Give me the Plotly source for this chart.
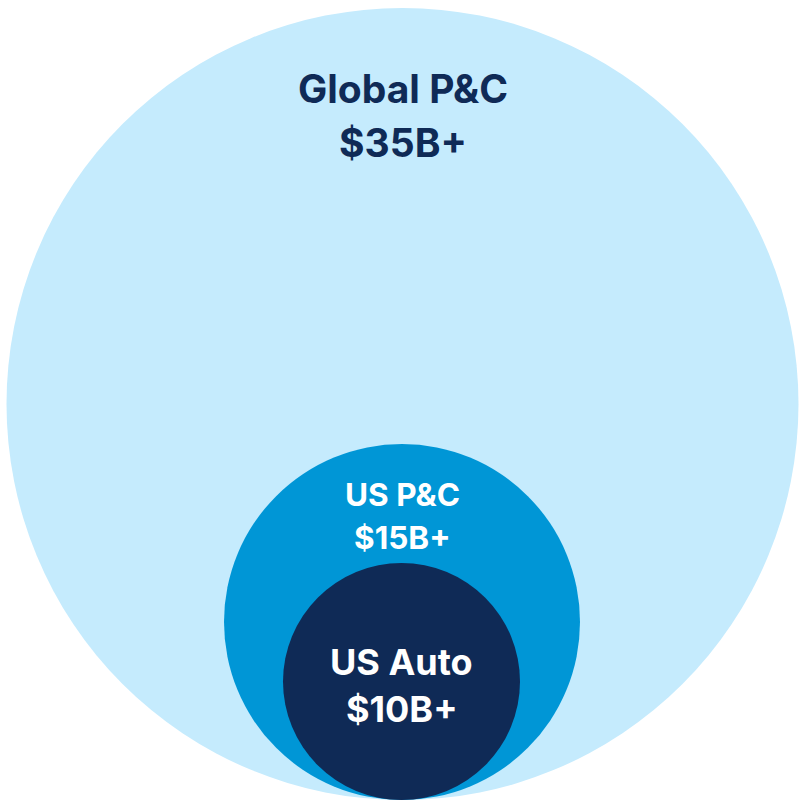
import plotly.graph_objects as go

# Data
segments = ["Global P&C", "US P&C", "US Auto"]
market_sizes = ["$35B+", "$15B+", "$10B+"]

# Styling / geometry (pixels in an 804x800 canvas)
fill_colors = ["#c5ebfd", "#0096d6", "#0f2a56"]
text_colors = ["#0f2a56", "#ffffff", "#ffffff"]
centers_x = [402.5, 402, 401.5]
radii = [396, 178, 118.5]
bottom_y = 800
title_y = [88, 494, 662]
value_y = [142, 537, 709]
font_sizes = [39, 31.5, 36]

fig = go.Figure()
fig.add_trace(go.Scatter(x=[0, 804], y=[0, 800], mode="markers",
                         marker=dict(opacity=0), hoverinfo="skip", showlegend=False))

shapes = []
for cx, r, col in zip(centers_x, radii, fill_colors):
    cy = bottom_y - r
    shapes.append(dict(type="circle", xref="x", yref="y",
                       x0=cx - r, x1=cx + r, y0=cy - r, y1=cy + r,
                       fillcolor=col, line=dict(width=0), layer="below"))

annotations = []
for name, val, tc, ty, vy, fs, cx in zip(segments, market_sizes, text_colors,
                                         title_y, value_y, font_sizes, centers_x):
    for txt, yy in ((name, ty), (val, vy)):
        annotations.append(dict(x=cx, y=yy, xref="x", yref="y", text=txt,
                                showarrow=False,
                                font=dict(family="Inter", size=fs, color=tc, weight="bold")))

fig.update_layout(
    width=804, height=800,
    margin=dict(l=0, r=0, t=0, b=0),
    paper_bgcolor="white", plot_bgcolor="white",
    xaxis=dict(range=[0, 804], visible=False, fixedrange=True),
    yaxis=dict(range=[800, 0], visible=False, fixedrange=True),
    shapes=shapes, annotations=annotations,
    showlegend=False,
)

fig.write_html("out.html")
